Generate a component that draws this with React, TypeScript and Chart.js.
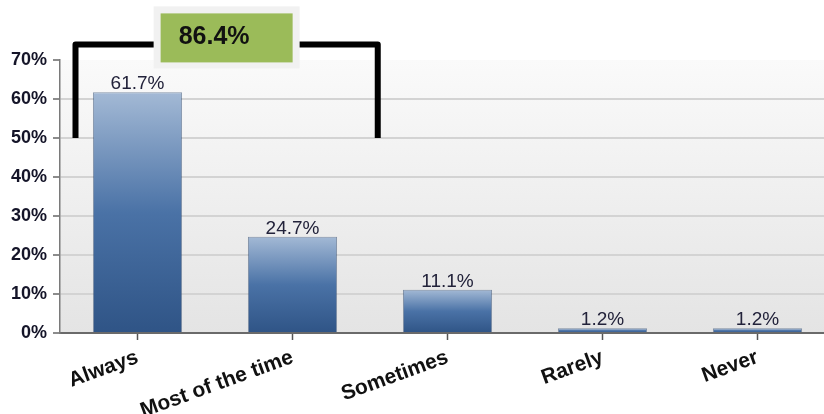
import React, { useEffect, useRef } from "react";
import { Chart, registerables } from "chart.js";

Chart.register(...registerables);

const categories = ["Always", "Most of the time", "Sometimes", "Rarely", "Never"];
const values = [61.7, 24.7, 11.1, 1.2, 1.2];
const yTicks = [0, 10, 20, 30, 40, 50, 60, 70];
const bracketCategories = [0, 1];
const bracketTopValue = 74;
const bracketBaseValue = 50;
const bracketLabel = "86.4%";

const FONT = "'Liberation Sans', Arial, sans-serif";

const backgroundPlugin = {
  id: "plotBg",
  beforeDraw(chart: any) {
    const { ctx, chartArea } = chart;
    if (!chartArea) return;
    const g = ctx.createLinearGradient(0, chartArea.top, 0, chartArea.bottom);
    g.addColorStop(0, "#fafafa");
    g.addColorStop(1, "#e4e4e4");
    ctx.save();
    ctx.fillStyle = g;
    ctx.fillRect(chartArea.left, chartArea.top, chartArea.right - chartArea.left, chartArea.bottom - chartArea.top);
    ctx.restore();
  },
};

const labelPlugin = {
  id: "barLabels",
  afterDatasetsDraw(chart: any) {
    const { ctx } = chart;
    const meta = chart.getDatasetMeta(0);
    ctx.save();
    ctx.font = `19px ${FONT}`;
    ctx.fillStyle = "#22223a";
    ctx.textAlign = "center";
    ctx.textBaseline = "alphabetic";
    meta.data.forEach((el: any, i: number) => {
      ctx.fillText(values[i].toFixed(1) + "%", el.x, el.y - 3);
    });
    ctx.restore();
  },
};

const bracketPlugin = {
  id: "bracket",
  afterDraw(chart: any) {
    const { ctx } = chart;
    const xs = chart.scales.x;
    const ys = chart.scales.y;
    const step = xs.getPixelForValue(1) - xs.getPixelForValue(0);
    const xl = xs.getPixelForValue(bracketCategories[0]) - 0.4 * step;
    const xr = xs.getPixelForValue(bracketCategories[1]) + 0.55 * step;
    const yt = ys.getPixelForValue(bracketTopValue);
    const yb = ys.getPixelForValue(bracketBaseValue);
    const cx = (xl + xr) / 2;
    ctx.save();
    ctx.strokeStyle = "#000";
    ctx.lineWidth = 6;
    ctx.lineJoin = "round";
    ctx.lineCap = "butt";
    ctx.beginPath();
    ctx.moveTo(xl, yb);
    ctx.lineTo(xl, yt);
    ctx.lineTo(xr, yt);
    ctx.lineTo(xr, yb);
    ctx.stroke();
    const ow = 146, oh = 62;
    ctx.fillStyle = "#f1f1f1";
    ctx.fillRect(cx - ow / 2, yt - 38, ow, oh);
    const iw = 132, ih = 49;
    ctx.fillStyle = "#9bbb59";
    ctx.fillRect(cx - iw / 2, yt - 31, iw, ih);
    ctx.fillStyle = "#111";
    ctx.font = `bold 25px ${FONT}`;
    ctx.textAlign = "left";
    ctx.textBaseline = "middle";
    ctx.fillText(bracketLabel, cx - iw / 2 + 18, yt - 7);
    ctx.restore();
  },
};

export default function App() {
  const ref = useRef<HTMLCanvasElement>(null);
  useEffect(() => {
    if (!ref.current) return;
    const chart = new Chart(ref.current, {
      type: "bar",
      data: {
        labels: categories,
        datasets: [
          {
            data: values,
            backgroundColor: (c: any) => {
              const ch = c.chart;
              if (!ch.chartArea || c.dataIndex === undefined) return "#4a72a6";
              const ys = ch.scales.y;
              const top = ys.getPixelForValue(values[c.dataIndex]);
              const bot = ys.getPixelForValue(0);
              const g = ch.ctx.createLinearGradient(0, top, 0, bot);
              g.addColorStop(0, "#a3b9d5");
              g.addColorStop(0.5, "#4a72a6");
              g.addColorStop(1, "#2f5486");
              return g;
            },
            borderColor: "rgba(40,70,110,0.55)",
            borderWidth: 1,
            barPercentage: 0.575,
            categoryPercentage: 1,
          },
        ],
      },
      options: {
        responsive: false,
        animation: false,
        layout: { padding: { left: 0, top: 60, right: 5, bottom: 0 } },
        plugins: { legend: { display: false }, tooltip: { enabled: false } },
        scales: {
          x: {
            afterFit: (s: any) => {
              s.height = 81;
            },
            grid: {
              offset: false,
              drawOnChartArea: false,
              drawTicks: true,
              tickLength: 7,
              tickColor: "#555",
              tickWidth: 1.5,
            },
            border: { color: "#6a6a6a", width: 2 },
            ticks: {
              autoSkip: false,
              minRotation: 20,
              maxRotation: 20,
              color: "#111",
              font: { family: FONT, size: 21, weight: "bold" },
              padding: 5,
            },
          },
          y: {
            min: 0,
            max: 70,
            afterFit: (s: any) => {
              s.width = 60;
            },
            afterBuildTicks: (s: any) => {
              s.ticks = yTicks.map((v) => ({ value: v }));
            },
            grid: {
              color: (c: any) => (c.tick && (c.tick.value === 0 || c.tick.value === 70) ? "rgba(0,0,0,0)" : "#d3d3d3"),
              lineWidth: 2,
              drawTicks: true,
              tickLength: 7,
              tickColor: "#666",
              tickWidth: 1.5,
            },
            border: { color: "#7a7a7a", width: 1.5 },
            ticks: {
              callback: (v: any) => v + "%",
              color: "#141428",
              font: { family: FONT, size: 18, weight: "bold" },
              padding: 6,
            },
          },
        },
      },
      plugins: [backgroundPlugin, labelPlugin, bracketPlugin],
    });
    return () => chart.destroy();
  }, []);
  return (
    <div style={{ position: "fixed", left: 0, top: 0, width: 824, height: 414, overflow: "hidden", background: "#fff" }}>
      <canvas ref={ref} width={840} height={414} style={{ display: "block" }} />
    </div>
  );
}
